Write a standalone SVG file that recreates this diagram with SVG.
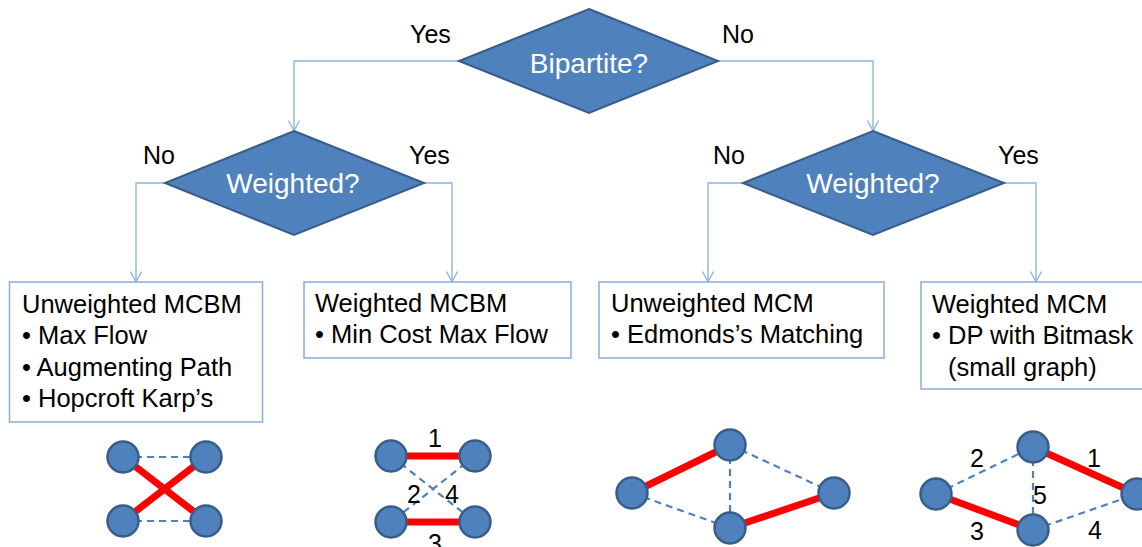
<svg xmlns="http://www.w3.org/2000/svg" width="1142" height="547" viewBox="0 0 1142 547">
<style>
  .dia { fill: #4f81bd; stroke: #385d8a; stroke-width: 2; }
  .dtxt { font-family: "Liberation Sans", Arial, sans-serif; font-size: 28px; fill: #ffffff; text-anchor: middle; }
  .lbl { font-family: "Liberation Sans", Arial, sans-serif; font-size: 25px; fill: #000000; }
  .box { fill: #ffffff; stroke: #8aabd9; stroke-width: 1.5; }
  .btxt { font-family: "Liberation Sans", Arial, sans-serif; font-size: 25.5px; fill: #000000; }
  .conn { fill: none; stroke: #8db4e2; stroke-width: 1.4; marker-end: url(#arr); }
  .node { fill: #4f81bd; stroke: #385d8a; stroke-width: 2.5; }
  .red { stroke: #ff0000; stroke-width: 7; }
  .dash { stroke: #4f81bd; stroke-width: 2.2; stroke-dasharray: 7 5; }
  .num { font-family: "Liberation Sans", Arial, sans-serif; font-size: 25px; fill: #000000; text-anchor: middle; }
</style>
<defs>
  <marker id="arr" viewBox="0 0 12 12" refX="11" refY="6" markerWidth="12" markerHeight="12" markerUnits="userSpaceOnUse" orient="auto">
    <path d="M0.5,0.5 L11,6 L0.5,11.5" fill="none" stroke="#8db4e2" stroke-width="1.3"/>
  </marker>
</defs>
<rect width="1142" height="547" fill="#ffffff"/>

<g id="connectors">
  <path class="conn" d="M459,61 H294 V131"/>
  <path class="conn" d="M718,61 H873 V131"/>
  <path class="conn" d="M165,183 H136 V282"/>
  <path class="conn" d="M424,183 H452 V282"/>
  <path class="conn" d="M743,183 H708 V282"/>
  <path class="conn" d="M1004,183 H1036 V282"/>
</g>

<g id="labels">
  <text class="lbl" x="410" y="43">Yes</text>
  <text class="lbl" x="722" y="43">No</text>
  <text class="lbl" x="143" y="164">No</text>
  <text class="lbl" x="409" y="164">Yes</text>
  <text class="lbl" x="713" y="164">No</text>
  <text class="lbl" x="998" y="164">Yes</text>
</g>

<g id="bipartite">
  <polygon class="dia" points="589,9 718,61 589,113 459,61"/>
  <text class="dtxt" x="589" y="73">Bipartite?</text>
</g>
<g id="weighted-left">
  <polygon class="dia" points="294,131 424,183 294,235 165,183"/>
  <text class="dtxt" x="293" y="193">Weighted?</text>
</g>
<g id="weighted-right">
  <polygon class="dia" points="873,131 1004,183 873,235 743,183"/>
  <text class="dtxt" x="873" y="193">Weighted?</text>
</g>

<g id="box-unweighted-mcbm">
  <rect class="box" x="9.5" y="282" width="253" height="140"/>
  <text class="btxt" x="22" y="313">Unweighted MCBM</text>
  <text class="btxt" x="22" y="344">• Max Flow</text>
  <text class="btxt" x="22" y="376">• Augmenting Path</text>
  <text class="btxt" x="22" y="407">• Hopcroft Karp’s</text>
</g>
<g id="box-weighted-mcbm">
  <rect class="box" x="304" y="282" width="267" height="76"/>
  <text class="btxt" x="315" y="312">Weighted MCBM</text>
  <text class="btxt" x="315" y="343">• Min Cost Max Flow</text>
</g>
<g id="box-unweighted-mcm">
  <rect class="box" x="599" y="282" width="285" height="76"/>
  <text class="btxt" x="611" y="312">Unweighted MCM</text>
  <text class="btxt" x="611" y="343">• Edmonds’s Matching</text>
</g>
<g id="box-weighted-mcm">
  <rect class="box" x="921" y="282" width="230" height="107"/>
  <text class="btxt" x="932" y="313">Weighted MCM</text>
  <text class="btxt" x="932" y="344">• DP with Bitmask</text>
  <text class="btxt" x="948" y="376">(small graph)</text>
</g>

<g id="graph1">
  <line class="dash" x1="123" y1="457" x2="206" y2="457"/>
  <line class="dash" x1="123" y1="521" x2="206" y2="521"/>
  <line class="red" x1="123" y1="457" x2="206" y2="521"/>
  <line class="red" x1="123" y1="521" x2="206" y2="457"/>
  <circle class="node" cx="123" cy="457" r="15.5"/>
  <circle class="node" cx="206" cy="457" r="15.5"/>
  <circle class="node" cx="123" cy="521" r="15.5"/>
  <circle class="node" cx="206" cy="521" r="15.5"/>
</g>

<g id="graph2">
  <line class="dash" x1="391" y1="456" x2="475" y2="522"/>
  <line class="dash" x1="475" y1="456" x2="391" y2="522"/>
  <line class="red" x1="391" y1="456" x2="475" y2="456"/>
  <line class="red" x1="391" y1="522" x2="475" y2="522"/>
  <circle class="node" cx="391" cy="456" r="15.5"/>
  <circle class="node" cx="475" cy="456" r="15.5"/>
  <circle class="node" cx="391" cy="522" r="15.5"/>
  <circle class="node" cx="475" cy="522" r="15.5"/>
  <text class="num" x="435" y="447">1</text>
  <text class="num" x="414" y="503">2</text>
  <text class="num" x="452" y="503">4</text>
  <text class="num" x="435" y="552">3</text>
</g>

<g id="graph3">
  <line class="dash" x1="730" y1="445" x2="834" y2="493"/>
  <line class="dash" x1="632" y1="493" x2="730" y2="528"/>
  <line class="dash" x1="730" y1="445" x2="730" y2="528"/>
  <line class="red" x1="632" y1="493" x2="730" y2="445"/>
  <line class="red" x1="730" y1="528" x2="834" y2="493"/>
  <circle class="node" cx="632" cy="493" r="15.5"/>
  <circle class="node" cx="730" cy="445" r="15.5"/>
  <circle class="node" cx="730" cy="528" r="15.5"/>
  <circle class="node" cx="834" cy="493" r="15.5"/>
</g>

<g id="graph4">
  <line class="dash" x1="936" y1="494" x2="1033" y2="447"/>
  <line class="dash" x1="1033" y1="530" x2="1137" y2="494"/>
  <line class="dash" x1="1033" y1="447" x2="1033" y2="530"/>
  <line class="red" x1="1033" y1="447" x2="1137" y2="494"/>
  <line class="red" x1="936" y1="494" x2="1033" y2="530"/>
  <circle class="node" cx="936" cy="494" r="15.5"/>
  <circle class="node" cx="1033" cy="447" r="15.5"/>
  <circle class="node" cx="1033" cy="530" r="15.5"/>
  <circle class="node" cx="1137" cy="494" r="15.5"/>
  <text class="num" x="977" y="467">2</text>
  <text class="num" x="1094" y="467">1</text>
  <text class="num" x="1040" y="504">5</text>
  <text class="num" x="977" y="540">3</text>
  <text class="num" x="1095" y="539">4</text>
</g>
</svg>
